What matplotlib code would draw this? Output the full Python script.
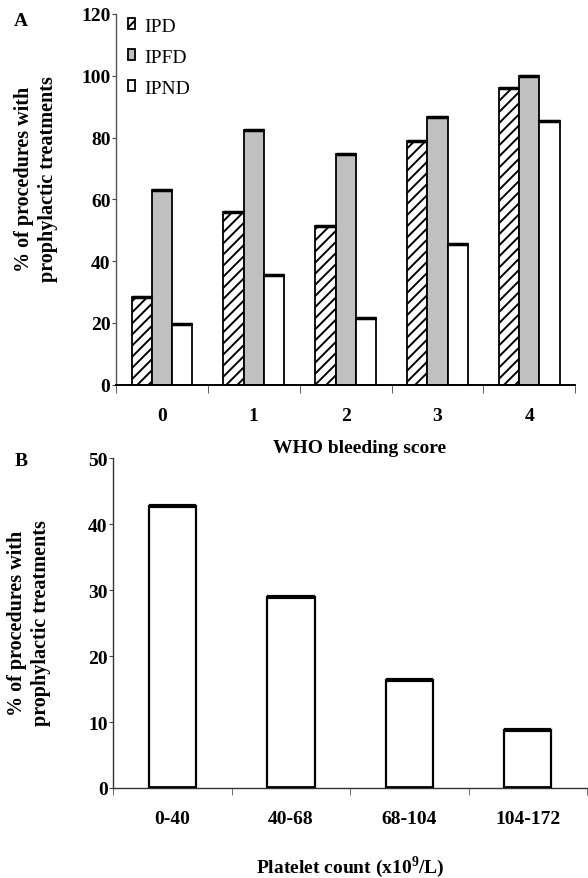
import numpy as np
import matplotlib.pyplot as plt

# -----------------------------------------------------------------------------
# Data
# -----------------------------------------------------------------------------

who_scores = ["0", "1", "2", "3", "4"]
ipd = [28.5, 56.0, 51.5, 79.0, 96.0]
ipfd = [63.0, 82.5, 74.5, 86.5, 100.0]
ipnd = [19.5, 35.5, 21.5, 45.5, 85.5]

platelet_bins = ["0-40", "40-68", "68-104", "104-172"]
platelet_pct = [42.8, 29.0, 16.4, 8.8]

# -----------------------------------------------------------------------------
# Style
# -----------------------------------------------------------------------------

plt.rcParams.update({
    "font.family": "Liberation Serif",
    "font.weight": "bold",
    "font.size": 14,
    "hatch.linewidth": 1.4,
    "hatch.color": "black",
    "mathtext.fontset": "custom",
    "mathtext.rm": "Liberation Serif",
    "mathtext.bf": "Liberation Serif:bold",
})

W, H = 588, 879
fig = plt.figure(figsize=(W / 100, H / 100), dpi=100)


def px_axes(x0, x1, ytop, ybot):
    return fig.add_axes([x0 / W, 1 - ybot / H, (x1 - x0) / W, (ybot - ytop) / H])


ax_a = px_axes(116, 575.3, 14.9, 385.7)
ax_b = px_axes(113.3, 587, 459, 789)

# -----------------------------------------------------------------------------
# Panel A
# -----------------------------------------------------------------------------

x = np.arange(len(who_scores))
bw = 0.22
series = [
    (ipd, -bw, dict(facecolor="white", hatch="///"), "IPD"),
    (ipfd, 0.0, dict(facecolor="#c0c0c0"), "IPFD"),
    (ipnd, bw, dict(facecolor="white"), "IPND"),
]
handles = []
for vals, off, kw, lab in series:
    h = ax_a.bar(x + off, vals, width=bw, edgecolor="black", linewidth=1.3,
                 label=lab, zorder=2, **kw)
    ax_a.hlines(vals, x + off - bw / 2, x + off + bw / 2, color="black",
                linewidth=2.5, zorder=3)
    handles.append(h)

ax_a.set_xlim(-0.5, 4.5)
ax_a.set_ylim(0, 120)
ax_a.set_yticks(np.arange(0, 121, 20))
ax_a.set_xticks(x)
ax_a.set_xticklabels(who_scores)
ax_a.set_xticks(np.arange(-0.5, 4.6, 1), minor=True)
ax_a.tick_params(axis="x", which="major", length=0, pad=16)
ax_a.tick_params(axis="x", which="minor", length=6, direction="out", color="#444")
ax_a.tick_params(axis="y", length=3, pad=1, color="#444")
for s in ["top", "right"]:
    ax_a.spines[s].set_visible(False)
ax_a.spines["left"].set_color("#555")
ax_a.spines["left"].set_linewidth(1.0)
ax_a.spines["bottom"].set_linewidth(1.4)

ax_a.legend(handles=handles, loc="upper left", bbox_to_anchor=(0.026, 0.99),
            frameon=False, prop={"weight": "normal", "size": 14},
            handlelength=0.35, handleheight=0.5, handletextpad=0.5,
            labelspacing=0.72, borderpad=0, borderaxespad=0)

# -----------------------------------------------------------------------------
# Panel B
# -----------------------------------------------------------------------------

xb = np.arange(len(platelet_bins))
bwb = 0.4
ax_b.bar(xb, platelet_pct, width=bwb, facecolor="white", edgecolor="black",
         linewidth=1.6, zorder=2)
ax_b.hlines(platelet_pct, xb - bwb / 2, xb + bwb / 2, color="black",
            linewidth=3, zorder=3)
ax_b.hlines(np.full(len(xb), 0.15), xb - bwb / 2, xb + bwb / 2, color="black",
            linewidth=2, zorder=3)
ax_b.set_xlim(-0.5, 3.5)
ax_b.set_ylim(0, 50)
ax_b.set_yticks(np.arange(0, 51, 10))
ax_b.set_xticks(xb)
ax_b.set_xticklabels(platelet_bins)
ax_b.set_xticks(np.arange(-0.5, 3.6, 1), minor=True)
ax_b.tick_params(axis="x", which="major", length=0, pad=16)
ax_b.tick_params(axis="x", which="minor", length=5, direction="out", color="#555")
ax_b.tick_params(axis="y", length=3, pad=1, color="#444")
for s in ["top", "right"]:
    ax_b.spines[s].set_visible(False)
ax_b.spines["left"].set_color("#333")
ax_b.spines["left"].set_linewidth(1.0)
ax_b.spines["bottom"].set_color("#333")
ax_b.spines["bottom"].set_linewidth(1.0)

# -----------------------------------------------------------------------------
# Labels
# -----------------------------------------------------------------------------

ylab = "% of procedures with\nprophylactic treatments"
fig.text(36 / W, 1 - 179 / H, ylab, rotation=90, ha="center", va="center",
         linespacing=1.3, multialignment="center", fontsize=14.5)
fig.text(29 / W, 1 - 623 / H, ylab, rotation=90, ha="center", va="center",
         linespacing=1.3, multialignment="center", fontsize=14.5)
fig.text(360 / W, 1 - 449 / H, "WHO bleeding score", ha="center", va="center")
fig.text(350 / W, 1 - 867 / H, "Platelet count (x10$^{\\mathbf{9}}$/L)",
         ha="center", va="center")
fig.text(21 / W, 1 - 22 / H, "A", ha="center", va="center")
fig.text(21 / W, 1 - 462 / H, "B", ha="center", va="center")

fig.savefig("out.png", dpi=100)
